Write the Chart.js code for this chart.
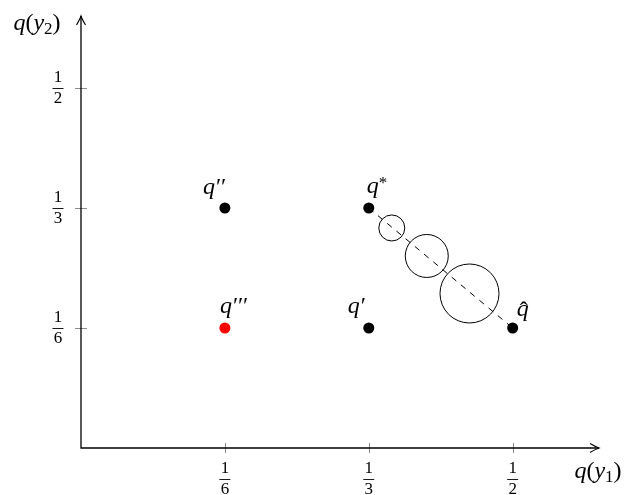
<!DOCTYPE html>
<html>
<head>
<meta charset="utf-8">
<script src="https://cdn.jsdelivr.net/npm/chart.js@4/dist/chart.umd.min.js"></script>
<style>
  html, body { margin: 0; padding: 0; background: #fff; }
  #wrap { width: 627px; height: 495px; }
</style>
</head>
<body>
<div id="wrap"><canvas id="qChart" width="627" height="495"></canvas></div>
<script>
// points of the simplex picture
var dotX = [1/6, 1/3, 1/3, 1/2];
var dotY = [1/3, 1/3, 1/6, 1/6];
var dotNames = ["q''", "q*", "q'", "qhat"];
var redX = [1/6];
var redY = [1/6];
var redNames = ["q'''"];

// dashed path q* -> q^ and the balls on it
var pathX = [1/3, 1/2];
var pathY = [1/3, 1/6];
var ballX = [0.360, 0.4005, 0.450];
var ballY = [0.3056, 0.2667, 0.2146];
var ballR = [13, 21.5, 29.5];

// axes
var axisMax = 0.6;
var xTicks = [1/6, 1/3, 1/2];
var xTickLabels = [["1", "6"], ["1", "3"], ["1", "2"]];
var yTicks = [1/6, 1/3, 1/2];
var yTickLabels = [["1", "6"], ["1", "3"], ["1", "2"]];

// label placement next to a dot (text left, baseline), in px
var labelShift = {
  "q''": [-22, -14],
  "q*": [-2, -15],
  "q'": [-21, -15],
  "qhat": [4, -12],
  "q'''": [-5, -15]
};

var SERIF = "'Liberation Serif', 'DejaVu Serif', serif";
var IT = "italic 24px " + SERIF;
var UP = "24px " + SERIF;
var SUB = "17px " + SERIF;
var FRAC = "17px " + SERIF;

function toPts(xs, ys, rs) {
  return xs.map(function (x, i) {
    var p = { x: x, y: ys[i] };
    if (rs) p.r = rs[i];
    return p;
  });
}

// draw a row of text pieces [text, font, dy]
function drawRich(ctx, parts, x, y, align) {
  var w = 0;
  parts.forEach(function (p) { ctx.font = p[1]; w += ctx.measureText(p[0]).width; });
  var cx = align == 'center' ? x - w / 2 : x;
  parts.forEach(function (p) {
    ctx.font = p[1];
    ctx.fillText(p[0], cx, y + (p[2] || 0));
    cx += ctx.measureText(p[0]).width;
  });
}

function drawName(ctx, name, x, y) {
  ctx.textAlign = 'left';
  ctx.textBaseline = 'alphabetic';
  ctx.font = IT;
  var w = ctx.measureText("q").width;
  if (name == 'q*') {
    drawRich(ctx, [["q", IT], ["*", SUB, -5]], x, y);
  } else if (name == 'qhat') {
    ctx.fillText("q", x, y);
    ctx.font = UP;
    ctx.textAlign = 'center';
    ctx.fillText("\u02C6", x + w / 2 + 1, y + 2);
    ctx.textAlign = 'left';
  } else {
    ctx.fillText("q", x, y);
    ctx.font = UP;
    for (var k = 1; k < name.length; k++) {
      ctx.fillText("\u2032", x + w + 1 + (k - 1) * 5, y);
    }
  }
}

function drawFrac(ctx, num, den, cx, cy) {
  ctx.font = FRAC;
  ctx.textAlign = 'center';
  ctx.textBaseline = 'middle';
  ctx.fillText(num, cx, cy - 10);
  ctx.fillText(den, cx, cy + 11);
  ctx.beginPath();
  ctx.lineWidth = 0.9;
  ctx.strokeStyle = '#000';
  ctx.moveTo(cx - 5.5, cy + 0.5);
  ctx.lineTo(cx + 5.5, cy + 0.5);
  ctx.stroke();
}

var axesPlugin = {
  id: 'axesPlugin',
  beforeDatasetsDraw: function (chart) {
    var ctx = chart.ctx;
    var xs = chart.scales.x, ys = chart.scales.y;
    var x0 = xs.getPixelForValue(0), y0 = ys.getPixelForValue(0);
    var xEnd = xs.getPixelForValue(axisMax), yEnd = ys.getPixelForValue(axisMax);
    ctx.save();

    // tick marks
    ctx.strokeStyle = '#8c8c8c';
    ctx.lineWidth = 1;
    xTicks.forEach(function (v) {
      var px = Math.round(xs.getPixelForValue(v)) + 0.5;
      ctx.beginPath(); ctx.moveTo(px, y0 - 5); ctx.lineTo(px, y0 + 5); ctx.stroke();
    });
    yTicks.forEach(function (v) {
      var py = Math.round(ys.getPixelForValue(v)) + 0.5;
      ctx.beginPath(); ctx.moveTo(x0 - 6, py); ctx.lineTo(x0 + 6, py); ctx.stroke();
    });

    // axis lines with arrow tips
    ctx.strokeStyle = '#000';
    ctx.lineWidth = 1.3;
    ctx.beginPath();
    ctx.moveTo(x0 - 0.5, y0); ctx.lineTo(xEnd, y0);
    ctx.moveTo(x0, y0 + 0.5); ctx.lineTo(x0, yEnd);
    ctx.stroke();
    ctx.lineWidth = 1.1;
    ctx.beginPath();
    ctx.moveTo(xEnd - 9, y0 - 4.5); ctx.quadraticCurveTo(xEnd - 3, y0 - 1, xEnd, y0);
    ctx.quadraticCurveTo(xEnd - 3, y0 + 1, xEnd - 9, y0 + 4.5);
    ctx.moveTo(x0 - 4.5, yEnd + 9); ctx.quadraticCurveTo(x0 - 1, yEnd + 3, x0, yEnd);
    ctx.quadraticCurveTo(x0 + 1, yEnd + 3, x0 + 4.5, yEnd + 9);
    ctx.stroke();

    // tick labels
    ctx.fillStyle = '#000';
    xTicks.forEach(function (v, i) {
      drawFrac(ctx, xTickLabels[i][0], xTickLabels[i][1], xs.getPixelForValue(v), y0 + 31);
    });
    yTicks.forEach(function (v, i) {
      drawFrac(ctx, yTickLabels[i][0], yTickLabels[i][1], x0 - 23, ys.getPixelForValue(v));
    });

    // axis titles
    ctx.textAlign = 'left';
    ctx.textBaseline = 'alphabetic';
    drawRich(ctx, [["q", IT], ["(", UP], ["y", IT], ["2", SUB, 4], [")", UP]], 37, 30, 'center');
    drawRich(ctx, [["q", IT], ["(", UP], ["y", IT], ["1", SUB, 4], [")", UP]], 598, 478, 'center');
    ctx.restore();
  },
  afterDatasetsDraw: function (chart) {
    var ctx = chart.ctx;
    var xs = chart.scales.x, ys = chart.scales.y;
    ctx.save();
    ctx.fillStyle = '#000';
    dotX.forEach(function (v, i) {
      var s = labelShift[dotNames[i]];
      drawName(ctx, dotNames[i], xs.getPixelForValue(v) + s[0], ys.getPixelForValue(dotY[i]) + s[1]);
    });
    redX.forEach(function (v, i) {
      var s = labelShift[redNames[i]];
      drawName(ctx, redNames[i], xs.getPixelForValue(v) + s[0], ys.getPixelForValue(redY[i]) + s[1]);
    });
    ctx.restore();
  }
};

var ctx = document.getElementById('qChart').getContext('2d');
var q_chart = new Chart(ctx, {
  type: 'scatter',
  data: {
    datasets: [{
        label: 'points',
        data: toPts(dotX, dotY),
        backgroundColor: '#000',
        borderWidth: 0,
        pointRadius: 5.5
      },
      {
        label: 'red point',
        data: toPts(redX, redY),
        backgroundColor: '#ff0000',
        borderWidth: 0,
        pointRadius: 5.5
      },
      {
        type: 'bubble',
        label: 'balls',
        data: toPts(ballX, ballY, ballR),
        backgroundColor: 'rgba(0,0,0,0)',
        borderColor: '#000',
        borderWidth: 1
      },
      {
        type: 'line',
        label: 'path',
        data: toPts(pathX, pathY),
        borderColor: '#000',
        borderWidth: 1,
        borderDash: [6, 6],
        pointRadius: 0,
        fill: false
      }
    ]
  },
  options: {
    responsive: false,
    animation: false,
    events: [],
    clip: false,
    layout: { autoPadding: false, padding: { left: 81, right: 28, top: 16, bottom: 47 } },
    plugins: {
      legend: { display: false },
      tooltip: { enabled: false }
    },
    scales: {
      x: { type: 'linear', min: 0, max: axisMax, display: false },
      y: { type: 'linear', min: 0, max: axisMax, display: false }
    }
  },
  plugins: [axesPlugin]
});
</script>
</body>
</html>
